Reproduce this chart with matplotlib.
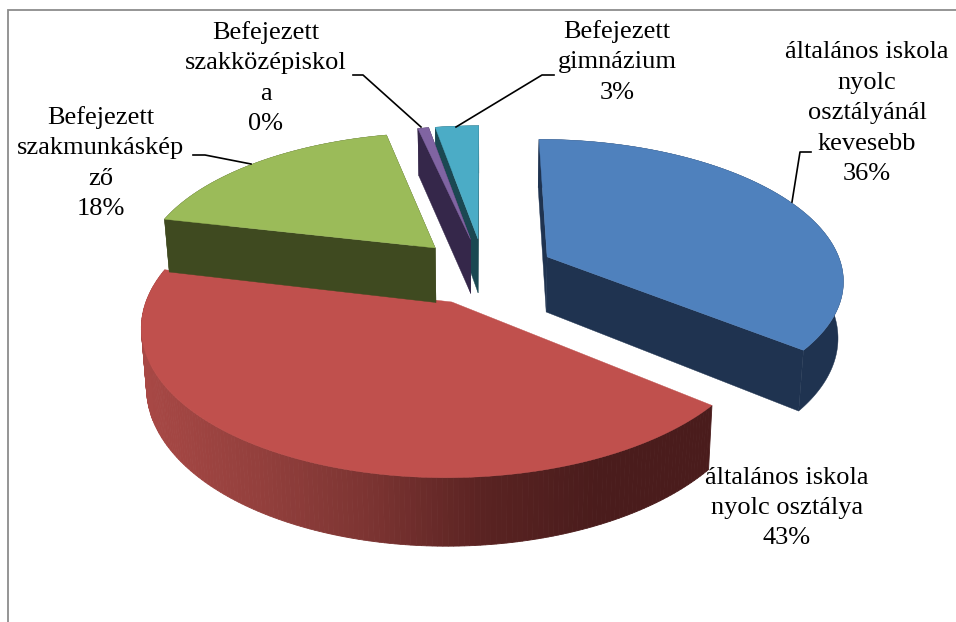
import numpy as np
import matplotlib
matplotlib.use("Agg")
import matplotlib.pyplot as plt
from matplotlib.colors import LinearSegmentedColormap

categories = ["általános iskola\nnyolc\nosztályánál\nkevesebb",
              "általános iskola\nnyolc osztálya",
              "Befejezett\nszakmunkáskép\nző",
              "Befejezett\nszakközépiskol\na",
              "Befejezett\ngimnázium"]
values = [36.0, 43.0, 18.0, 0.7, 2.8]
percent_labels = ["36%", "43%", "18%", "0%", "3%"]
top_colors = ["#4F81BD", "#C0504D", "#9BBB59", "#8064A2", "#4BACC6"]
side_colors = ["#1F3350", "#8A3A38", "#3F4A20", "#35274A", "#1B4852"]

W, H = 956, 622
CX, CY = 484, 271      # pie centre on the page
RX, RY = 296, 139      # radii
PERSP = 0.15           # perspective strength
EXPL = 0.24            # explosion
DEPTH = 56             # wall height
CONV = 0.015           # vertical convergence

fig = plt.figure(figsize=(W / 100, H / 100), dpi=100)
ax = fig.add_axes([0, 0, 1, 1])
ax.set_xlim(0, W)
ax.set_ylim(H, 0)
ax.axis("off")

frac = np.array(values) / sum(values)
edges = np.concatenate([[0], np.cumsum(frac)]) * 2 * np.pi


def project(x, y):
    k = 1 / (1 - PERSP * y)
    return CX + RX * x * k, CY + RY * y * k, k


def lower(X, Y, k):
    return X + (CX - X) * CONV, Y + DEPTH * k


red_cmap = LinearSegmentedColormap.from_list(
    "redside", ["#A84845", "#94403D", "#7C3432", "#5A2322", "#4A1C1C", "#4A1C1C"])

order = [1, 2, 0, 4, 3]
for n, i in enumerate(order):
    z = 2 + n
    a0, a1 = edges[i], edges[i + 1]
    mid = (a0 + a1) / 2
    ox, oy = EXPL * np.sin(mid), -EXPL * np.cos(mid)
    th = np.linspace(a0, a1, 180)
    xr, yr, kr = project(ox + np.sin(th), oy - np.cos(th))
    xb, yb = lower(xr, yr, kr)
    ax0, ay0, ak = project(ox, oy)
    ax_b, ay_b = lower(ax0, ay0, ak)
    if i != 1:
        for j in (0, -1):
            ax.fill([ax0, xr[j], xb[j], ax_b], [ay0, yr[j], yb[j], ay_b],
                    color=side_colors[i], lw=0.3, zorder=z)
        ax.fill(np.r_[xr, xb[::-1]], np.r_[yr, yb[::-1]], color=side_colors[i], lw=0.3, zorder=z)
    else:
        for j in range(len(th) - 1):
            t = np.clip((0.5 * (xr[j] + xr[j + 1]) - 140) / 570, 0, 1)
            ax.fill([xr[j], xr[j + 1], xb[j + 1], xb[j]], [yr[j], yr[j + 1], yb[j + 1], yb[j]],
                    color=red_cmap(t), lw=0.6, zorder=z)
    ax.fill(np.r_[ax0, xr], np.r_[ay0, yr], color=top_colors[i], lw=0.3, zorder=z)

# frame
ax.plot([8, 8, W], [H, 10, 10], color="#8C8C8C", lw=1.3, solid_joinstyle="miter", zorder=1)

# leader lines
leaders = [[(811, 152), (800, 152), (792, 202)],
           [(193, 155), (205, 155), (251, 164)],
           [(353, 75), (363, 75), (421, 127)],
           [(554, 75), (542, 75), (456, 127)]]
for pts in leaders:
    xs, ys = zip(*pts)
    ax.plot(xs, ys, color="black", lw=1.2, zorder=9)

# labels
label_pos = [(867, 113.5), (787, 508), (101, 163), (266, 78), (617, 62)]
for cat, pct, (x, y) in zip(categories, percent_labels, label_pos):
    ax.text(x, y, cat + "\n" + pct, ha="center", va="center", multialignment="center",
            family="Liberation Serif", fontsize=19, color="black", linespacing=1.5, zorder=10)

fig.savefig("out.png", dpi=100, facecolor="white")
